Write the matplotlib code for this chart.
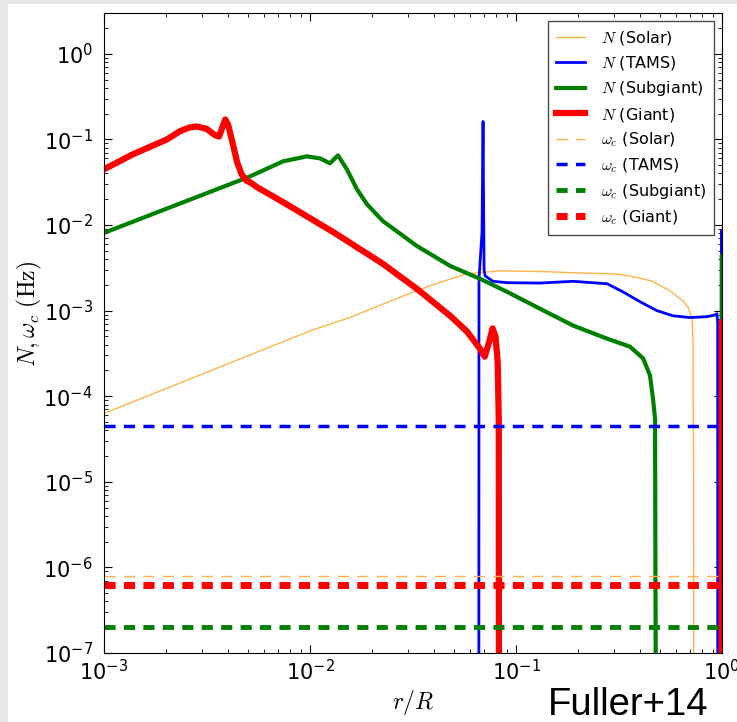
import matplotlib
matplotlib.use("Agg")
import matplotlib.pyplot as plt
import matplotlib.patches as patches
from matplotlib.ticker import LogLocator, NullFormatter

plt.rcParams['font.family'] = ['DejaVu Sans']
plt.rcParams['mathtext.fontset'] = 'cm'
plt.rcParams['lines.scale_dashes'] = False

# Buoyancy frequency N(r) for each stellar model (Hz)
r_solar = [1e-3, 1e-2, 0.0156, 0.0251, 0.033, 0.0427, 0.0578, 0.0836, 0.132, 0.19,
           0.275, 0.32, 0.40, 0.46, 0.56, 0.647, 0.684, 0.715, 0.723, 0.728, 0.7285]
N_solar = [6.3e-5, 5.8e-4, 8.3e-4, 1.32e-3, 1.71e-3, 2.14e-3, 2.69e-3, 2.92e-3, 2.86e-3, 2.77e-3,
           2.7e-3, 2.65e-3, 2.4e-3, 2.2e-3, 1.7e-3, 1.3e-3, 1.1e-3, 8.1e-4, 4.7e-4, 1e-5, 1e-9]

r_tams = [0.0660, 0.0661, 0.0684, 0.0692, 0.0694, 0.0700, 0.0708, 0.0773, 0.0904, 0.131,
          0.189, 0.277, 0.33, 0.40, 0.483, 0.578, 0.70, 0.846, 0.925, 0.946,
          0.953, 0.9535, 0.993, 0.9935, 1.0]
N_tams = [1e-9, 2.3e-3, 8.3e-3, 0.162, 0.05, 3.0e-3, 2.55e-3, 2.2e-3, 2.12e-3, 2.1e-3,
          2.2e-3, 2.06e-3, 1.66e-3, 1.27e-3, 1.0e-3, 8.7e-4, 8.3e-4, 8.5e-4, 8.9e-4, 9.2e-4,
          7e-4, 1e-9, 1e-9, 8.5e-3, 8.5e-3]

r_subgiant = [1e-3, 0.00409, 0.00512, 0.0074, 0.00966, 0.0112, 0.0125, 0.01367, 0.0151, 0.0169,
              0.0189, 0.0226, 0.033, 0.0479, 0.0668, 0.0904, 0.131, 0.189, 0.277, 0.357,
              0.414, 0.447, 0.462, 0.473, 0.479, 0.996, 0.997, 1.0]
N_subgiant = [8.1e-3, 0.030, 0.037, 0.0555, 0.0634, 0.060, 0.0526, 0.0652, 0.0448, 0.0262,
              0.0175, 0.0111, 5.7e-3, 3.33e-3, 2.36e-3, 1.66e-3, 1.05e-3, 6.7e-4, 4.7e-4, 3.8e-4,
              2.77e-4, 1.75e-4, 9.5e-5, 5.5e-5, 1e-9, 1e-9, 4.4e-3, 4.4e-3]

r_giant = [1e-3, 1.38e-3, 2.02e-3, 2.34e-3, 2.6e-3, 2.82e-3, 3.15e-3, 3.46e-3, 3.62e-3, 3.80e-3,
           3.88e-3, 4.0e-3, 4.17e-3, 4.43e-3, 4.66e-3, 4.93e-3, 5.12e-3, 5.53e-3, 7.4e-3, 0.01294,
           0.0226, 0.033, 0.0479, 0.0578, 0.0668, 0.0705, 0.0745, 0.0770, 0.0795, 0.0815,
           0.0825, 0.0827, 0.996, 0.997, 1.0]
N_giant = [0.0448, 0.067, 0.10, 0.125, 0.138, 0.1416, 0.133, 0.112, 0.108, 0.15,
           0.171, 0.15, 0.10, 0.054, 0.039, 0.0327, 0.0316, 0.0277, 0.0185, 8.3e-3,
           3.52e-3, 1.8e-3, 8.7e-4, 5.7e-4, 3.6e-4, 2.9e-4, 4.5e-4, 6.2e-4, 5.0e-4, 2.5e-4,
           5e-5, 1e-9, 1e-9, 7.4e-4, 7.4e-4]

# Acoustic cutoff frequency of each model (Hz)
wc_solar = 7.9e-7
wc_tams = 4.5e-5
wc_subgiant = 2.0e-7
wc_giant = 6.3e-7

modelos = ['Solar', 'TAMS', 'Subgiant', 'Giant']
colores = ['#ffb347', '#0000ff', '#008000', '#ff0000']
anchos_N = [1.0, 2.0, 3.0, 4.5]
anchos_wc = [1.0, 2.5, 3.5, 5.0]

perfiles = [(r_solar, N_solar), (r_tams, N_tams), (r_subgiant, N_subgiant), (r_giant, N_giant)]
cortes = [wc_solar, wc_tams, wc_subgiant, wc_giant]

fig = plt.figure(figsize=(7.37, 7.22), dpi=100)
fig.patch.set_facecolor('#e6e6e6')
fig.add_artist(patches.Rectangle((8 / 737, 0), 1, 1 - 4 / 722, transform=fig.transFigure,
                                 facecolor='white', edgecolor='none', zorder=-1))

ax = fig.add_axes([104 / 737, 1 - 653 / 722, 618 / 737, 640 / 722])
ax.set_xscale('log')
ax.set_yscale('log')

for nombre, (r, N), color, lw in zip(modelos, perfiles, colores, anchos_N):
    ax.plot(r, N, color=color, lw=lw, label=r'$N$ (%s)' % nombre)

for nombre, wc, color, lw in zip(modelos, cortes, colores, anchos_wc):
    ax.axhline(wc, color=color, lw=lw, dashes=(8, 6), label=r'$\omega_c$ (%s)' % nombre)

ax.set_xlim(1e-3, 1)
ax.set_ylim(1e-7, 3)

# minor ticks on every decade
for eje in (ax.xaxis, ax.yaxis):
    eje.set_minor_locator(LogLocator(base=10, subs=range(2, 10), numticks=100))
    eje.set_minor_formatter(NullFormatter())

ax.tick_params(which='both', direction='in', top=True, right=True, labelsize=15)
ax.tick_params(which='major', length=6)
ax.tick_params(which='minor', length=3)
ax.tick_params(axis='x', pad=4)
ax.tick_params(axis='y', pad=8)

ax.set_xlabel(r'$r/R$', fontsize=17)
ax.set_ylabel(r'$N, \omega_c\ (\mathrm{Hz})$', fontsize=17)
ax.xaxis.set_label_coords(0.5, -0.055)
ax.yaxis.set_label_coords(-0.097, 0.53)

ax.legend(loc='upper right', fontsize=11.5, fancybox=False, edgecolor='0.3', framealpha=1,
          labelspacing=0.45, handlelength=1.8, handletextpad=1.0, borderaxespad=0.5,
          borderpad=0.5)

fig.text(548 / 737, 1 - 715 / 722, 'Fuller+14', fontsize=27.5, family='Liberation Sans',
         va='baseline')

fig.savefig('out.png', dpi=100, facecolor=fig.get_facecolor())
